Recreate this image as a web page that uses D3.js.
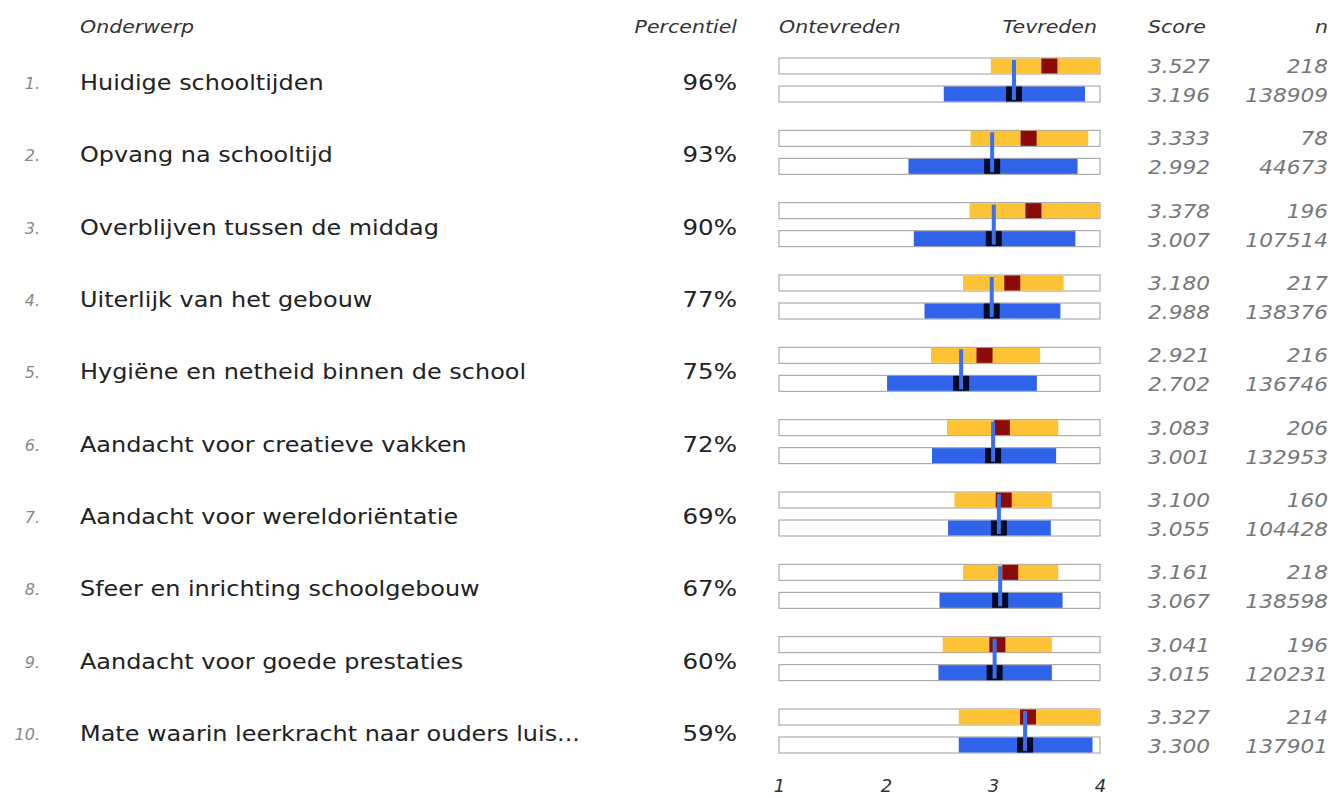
<!DOCTYPE html>
<head>
  <meta charset="utf-8">
  <script src="https://d3js.org/d3.v7.min.js"></script>
  <style>
    body { margin: 0; background: #fff; }
    text { font-family: "DejaVu Sans", Verdana, sans-serif; }
    .head { font-style: italic; font-size: 18px; fill: #333; }
    .num { font-style: italic; font-size: 16px; fill: #888; }
    .topic { font-size: 21px; fill: #222; }
    .pct { font-size: 21.5px; fill: #222; }
    .score { font-style: italic; font-size: 19px; fill: #777; }
    .axis text { font-style: italic; font-size: 18px; fill: #333; font-family: "DejaVu Sans", Verdana, sans-serif; }
  </style>
</head>
<body>
<script>

var topics = [
  "Huidige schooltijden",
  "Opvang na schooltijd",
  "Overblijven tussen de middag",
  "Uiterlijk van het gebouw",
  "Hygiëne en netheid binnen de school",
  "Aandacht voor creatieve vakken",
  "Aandacht voor wereldoriëntatie",
  "Sfeer en inrichting schoolgebouw",
  "Aandacht voor goede prestaties",
  "Mate waarin leerkracht naar ouders luis..."
];
var percentiles = [96, 93, 90, 77, 75, 72, 69, 67, 60, 59];
var scores      = [3.527, 3.333, 3.378, 3.180, 2.921, 3.083, 3.100, 3.161, 3.041, 3.327];
var benchScores = [3.196, 2.992, 3.007, 2.988, 2.702, 3.001, 3.055, 3.067, 3.015, 3.300];
var nSchool     = [218, 78, 196, 217, 216, 206, 160, 218, 196, 214];
var nBench      = [138909, 44673, 107514, 138376, 136746, 132953, 104428, 138598, 120231, 137901];
// spread of the school (yellow) and benchmark (blue) answers
var schoolLow   = [2.98, 2.79, 2.78, 2.72, 2.42, 2.57, 2.64, 2.72, 2.53, 2.68];
var schoolHigh  = [4.00, 3.89, 4.00, 3.66, 3.44, 3.61, 3.55, 3.61, 3.55, 4.00];
var benchLow    = [2.54, 2.21, 2.26, 2.36, 2.01, 2.43, 2.58, 2.50, 2.49, 2.68];
var benchHigh   = [3.86, 3.79, 3.77, 3.63, 3.41, 3.59, 3.54, 3.65, 3.55, 3.93];
var tickValues  = [1, 2, 3, 4];

var data = topics.map(function(t, i) {
  return {
    i: i, topic: t, pct: percentiles[i], score: scores[i], bench: benchScores[i],
    n: nSchool[i], nb: nBench[i],
    sLo: schoolLow[i], sHi: schoolHigh[i], bLo: benchLow[i], bHi: benchHigh[i]
  };
});

var width = 1343, height = 798;
var barH = 16, barGap = 28;
var sx = 1.14; // the original text is drawn a bit wide

var x = d3.scaleLinear().domain([1, 4]).range([779, 1100]);
var y = d3.scaleLinear().domain([0, 9]).range([58, 709]);

var svg = d3.select("body").append("svg")
    .attr("width", width)
    .attr("height", height);

// text placed at (tx,ty), stretched horizontally around its anchor
function wide(sel, tx, ty, anchor) {
  return sel.append("text")
      .attr("transform", "translate(" + tx + "," + ty + ") scale(" + sx + ",1)")
      .style("text-anchor", anchor || "start");
}

// headers
wide(svg, 80, 33).attr("class", "head").text("Onderwerp");
wide(svg, 737, 33, "end").attr("class", "head").text("Percentiel");
wide(svg, x(1), 33).attr("class", "head").text("Ontevreden");
wide(svg, x(4) - 3, 33, "end").attr("class", "head").text("Tevreden");
wide(svg, 1148, 33).attr("class", "head").text("Score");
wide(svg, 1328, 33, "end").attr("class", "head").text("n");

var row = svg.selectAll(".row")
    .data(data)
  .enter().append("g")
    .attr("class", "row")
    .attr("transform", function(d) { return "translate(0," + y(d.i) + ")"; });

row.append("text").attr("class", "num")
    .attr("x", 40).attr("y", 31)
    .style("text-anchor", "end")
    .text(function(d) { return (d.i + 1) + "."; });

wide(row, 80, 32).attr("class", "topic")
    .text(function(d) { return d.topic; });

wide(row, 737, 32, "end").attr("class", "pct")
    .text(function(d) { return d.pct + "%"; });

// outlines
[0, barGap].forEach(function(off) {
  row.append("rect")
      .attr("x", x(1)).attr("y", off)
      .attr("width", x(4) - x(1)).attr("height", barH)
      .style("fill", "#fff").style("stroke", "#9c9c9c").style("stroke-width", 1);
});

// school spread
row.append("rect")
    .attr("x", function(d) { return x(d.sLo); })
    .attr("y", 0.5)
    .attr("width", function(d) { return x(d.sHi) - x(d.sLo); })
    .attr("height", barH - 1)
    .style("fill", "#fdc334");

// benchmark spread
row.append("rect")
    .attr("x", function(d) { return x(d.bLo); })
    .attr("y", barGap + 0.5)
    .attr("width", function(d) { return x(d.bHi) - x(d.bLo); })
    .attr("height", barH - 1)
    .style("fill", "#2f63e9");

// school score marker
row.append("rect")
    .attr("x", function(d) { return x(d.score) - 8; })
    .attr("y", 0.5)
    .attr("width", 16)
    .attr("height", barH - 1)
    .style("fill", "#8b0a0a");

// benchmark score marker
row.append("rect")
    .attr("x", function(d) { return x(d.bench) - 8; })
    .attr("y", barGap + 0.5)
    .attr("width", 16)
    .attr("height", barH - 1)
    .style("fill", "#050a22");

// benchmark line across both bars
row.append("rect")
    .attr("x", function(d) { return x(d.bench) - 2; })
    .attr("y", 2)
    .attr("width", 4)
    .attr("height", barGap + barH - 4)
    .style("fill", "#3a6ff0");

// scores and n
wide(row, 1148, 15).attr("class", "score")
    .text(function(d) { return d.score.toFixed(3); });
wide(row, 1148, 44).attr("class", "score")
    .text(function(d) { return d.bench.toFixed(3); });
wide(row, 1328, 15, "end").attr("class", "score")
    .text(function(d) { return d.n; });
wide(row, 1328, 44, "end").attr("class", "score")
    .text(function(d) { return d.nb; });

// axis
var axis = svg.append("g")
    .attr("class", "axis")
    .attr("transform", "translate(0," + 775 + ")")
    .call(d3.axisBottom(x).tickValues(tickValues).tickSize(0).tickPadding(0).tickFormat(d3.format("d")));
axis.select(".domain").remove();
axis.selectAll("text").attr("dy", "0.95em");

</script>
</body>
